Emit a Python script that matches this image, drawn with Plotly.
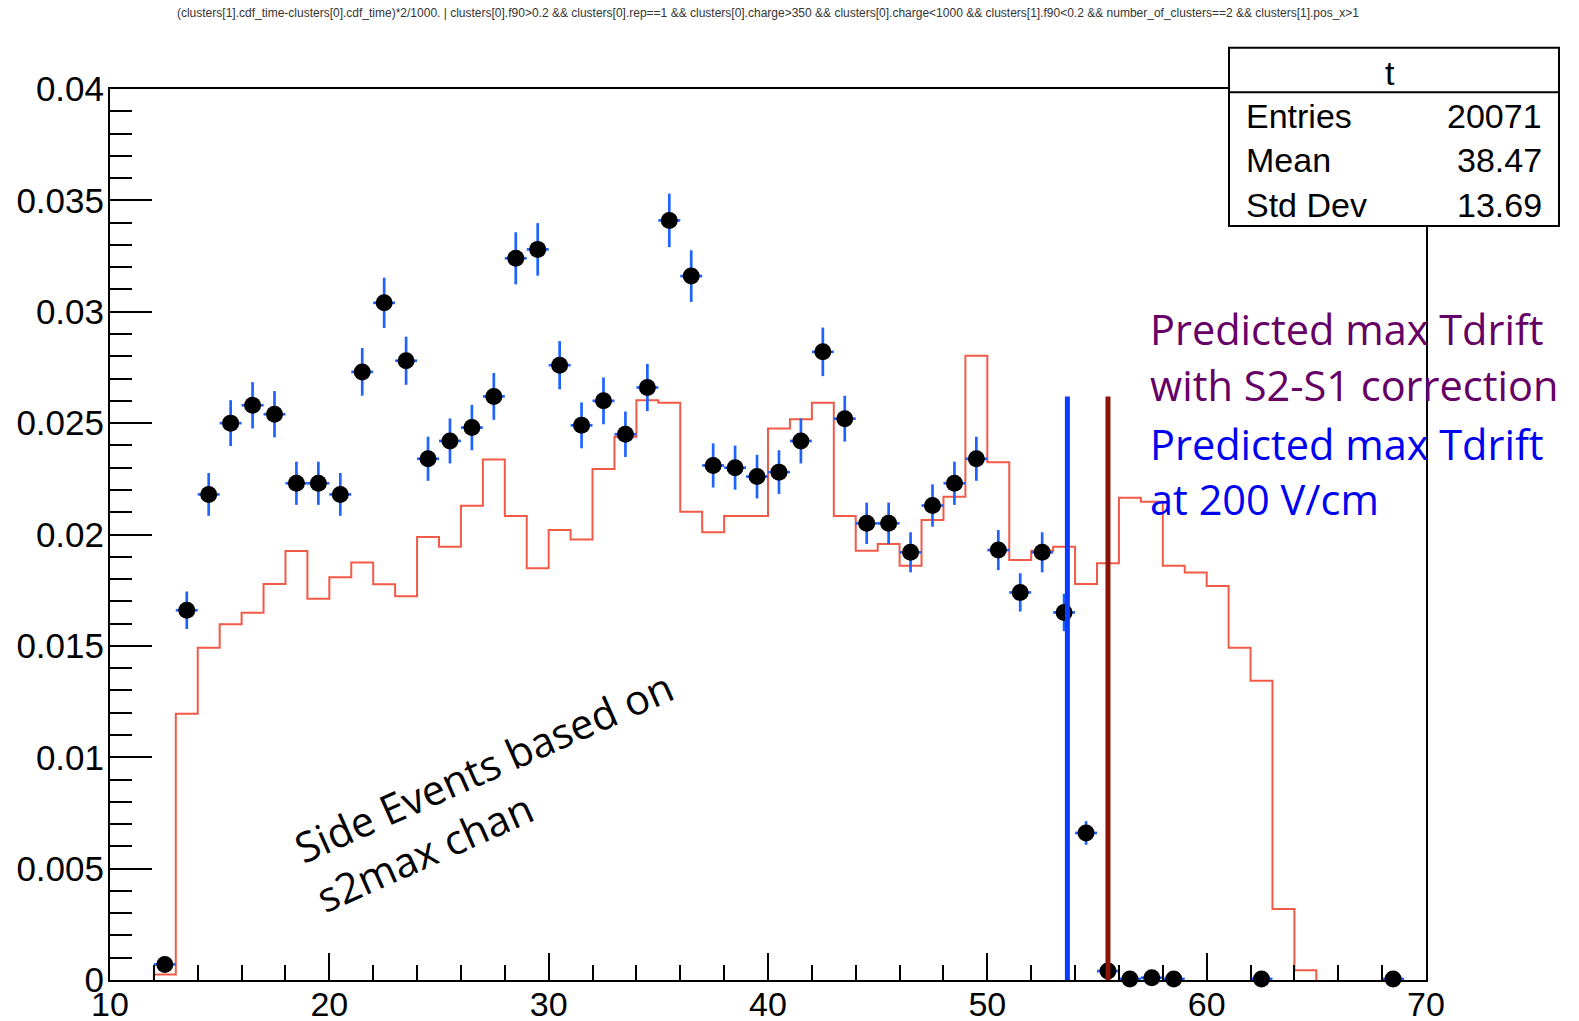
import plotly.graph_objects as go

# ---------------- data ----------------
point_x = [12.5, 13.5, 14.5, 15.5, 16.5, 17.5, 18.5, 19.5, 20.5, 21.5,
           22.5, 23.5, 24.5, 25.5, 26.5, 27.5, 28.5, 29.5, 30.5, 31.5,
           32.5, 33.5, 34.5, 35.5, 36.5, 37.5, 38.5, 39.5, 40.5, 41.5,
           42.5, 43.5, 44.5, 45.5, 46.5, 47.5, 48.5, 49.5, 50.5, 51.5,
           52.5, 53.5, 54.5, 55.5, 56.5, 57.5, 58.5, 62.5, 68.5]
point_y = [0.0007, 0.0166, 0.0218, 0.0250, 0.0258, 0.0254, 0.0223, 0.0223, 0.0218, 0.0273,
           0.0304, 0.0278, 0.0234, 0.0242, 0.0248, 0.0262, 0.0324, 0.0328, 0.0276, 0.0249,
           0.0260, 0.0245, 0.0266, 0.0341, 0.0316, 0.0231, 0.0230, 0.0226, 0.0228, 0.0242,
           0.0282, 0.0252, 0.0205, 0.0205, 0.0192, 0.0213, 0.0223, 0.0234, 0.0193, 0.0174,
           0.0192, 0.0165, 0.0066, 0.0004, 0.00005, 0.0001, 0.00005, 0.00005, 0.00005]
point_err = [0.00017, 0.00084, 0.00096, 0.00103, 0.00104, 0.00104, 0.00097, 0.00097, 0.00096, 0.00107,
             0.00113, 0.00108, 0.00099, 0.00101, 0.00102, 0.00105, 0.00117, 0.00118, 0.00108, 0.00103,
             0.00105, 0.00102, 0.00106, 0.00120, 0.00116, 0.00099, 0.00099, 0.00098, 0.00098, 0.00101,
             0.00109, 0.00103, 0.00093, 0.00093, 0.00090, 0.00095, 0.00097, 0.00099, 0.00090, 0.00086,
             0.00090, 0.00084, 0.00053, 0.00013, 0.00005, 0.00007, 0.00005, 0.00005, 0.00005]
bin_half_width = 0.5

hist_low_edges = [12, 13, 14, 15, 16, 17, 18, 19, 20, 21, 22, 23, 24, 25, 26, 27, 28, 29,
                  30, 31, 32, 33, 34, 35, 36, 37, 38, 39, 40, 41, 42, 43, 44, 45, 46, 47,
                  48, 49, 50, 51, 52, 53, 54, 55, 56, 57, 58, 59, 60, 61, 62, 63, 64]
hist_last_edge = 65
hist_values = [0.00025, 0.01195, 0.01492, 0.01597, 0.01649, 0.01778, 0.01926, 0.01712, 0.01808,
               0.01874, 0.01777, 0.01723, 0.01989, 0.01945, 0.02129, 0.02337, 0.02083, 0.01848,
               0.02020, 0.01978, 0.02294, 0.02439, 0.02603, 0.02591, 0.02102, 0.02010, 0.02083,
               0.02083, 0.02476, 0.02517, 0.02591, 0.02083, 0.01927, 0.01957, 0.01860, 0.02065,
               0.02170, 0.02802, 0.02324, 0.01886, 0.01927, 0.01945, 0.01778, 0.01871, 0.02165,
               0.02147, 0.01860, 0.01829, 0.01769, 0.01492, 0.01343, 0.00319, 0.00044]

x_tick_vals = [10, 20, 30, 40, 50, 60, 70]
x_tick_text = ["10", "20", "30", "40", "50", "60", "70"]
y_tick_vals = [0, 0.005, 0.01, 0.015, 0.02, 0.025, 0.03, 0.035, 0.04]
y_tick_text = ["0", "0.005", "0.01", "0.015", "0.02", "0.025", "0.03", "0.035", "0.04"]

line_blue_x = 53.65      # predicted max Tdrift at 200 V/cm
line_red_x = 55.5        # predicted max Tdrift with S2-S1 correction
line_top_y = 0.0262

stats_title = "t"
stats_labels = ["Entries", "Mean", "Std Dev"]
stats_values = ["20071", "38.47", "13.69"]

title_text = ("(clusters[1].cdf_time-clusters[0].cdf_time)*2/1000. | clusters[0].f90>0.2 && "
              "clusters[0].rep==1 && clusters[0].charge>350 && clusters[0].charge<1000 && "
              "clusters[1].f90<0.2 && number_of_clusters==2 && clusters[1].pos_x>1")

# ---------------- layout geometry ----------------
W, H = 1579, 1021
ML, MR, MT, MB = 110, 153, 88.5, 40.5
PW, PH = W - ML - MR, H - MT - MB


def px(xp):
    return (xp - ML) / PW


def py(yp):
    return (H - MB - yp) / PH


fig = go.Figure()

# histogram outline (step)
step_x = [hist_low_edges[0]] + hist_low_edges + [hist_last_edge]
step_y = [0] + hist_values + [0]
fig.add_trace(go.Scatter(
    x=step_x, y=step_y, mode="lines", line=dict(shape="hv", color="#f25a48", width=2),
    hoverinfo="skip", showlegend=False))

# data points
fig.add_trace(go.Scatter(
    x=point_x, y=point_y, mode="markers",
    marker=dict(symbol="circle", size=17, color="black"),
    error_y=dict(type="data", array=point_err, color="#1f63ff", thickness=2.7, width=0),
    error_x=dict(type="constant", value=bin_half_width, color="#1f63ff", thickness=2.7, width=0),
    cliponaxis=False, showlegend=False))

shapes = [
    dict(type="line", xref="x", yref="y", x0=line_blue_x, x1=line_blue_x, y0=0, y1=line_top_y,
         line=dict(color="#0a3cff", width=5), layer="above"),
    dict(type="line", xref="x", yref="y", x0=line_red_x, x1=line_red_x, y0=0, y1=line_top_y,
         line=dict(color="#8b1508", width=5), layer="above"),
    # stats box
    dict(type="rect", xref="paper", yref="paper", x0=px(1229), x1=px(1559), y0=py(225.7), y1=py(47.3),
         fillcolor="white", line=dict(color="black", width=2), layer="above"),
    dict(type="line", xref="paper", yref="paper", x0=px(1229), x1=px(1559), y0=py(91.7), y1=py(91.7),
         line=dict(color="black", width=2), layer="above"),
]

stat_font = dict(family="Liberation Sans, Arial, sans-serif", size=34, color="black")
ann = [
    dict(xref="paper", yref="paper", x=px(1390), y=py(72), text=stats_title, showarrow=False,
         xanchor="center", yanchor="middle", font=stat_font),
]
row_y = [116, 160, 205]
for lab, val, ry in zip(stats_labels, stats_values, row_y):
    ann.append(dict(xref="paper", yref="paper", x=px(1244), y=py(ry), text=lab, showarrow=False,
                    xanchor="left", yanchor="middle", font=stat_font))
    ann.append(dict(xref="paper", yref="paper", x=px(1544), y=py(ry), text=val, showarrow=False,
                    xanchor="right", yanchor="middle", font=stat_font))

note_font = "Open Sans, Noto Sans, sans-serif"
note_lines = [("Predicted max Tdrift", "#660066", 329),
              ("with S2-S1 correction", "#660066", 385),
              ("Predicted max Tdrift", "#0000f0", 444),
              ("at 200 V/cm", "#0000f0", 499)]
for txt, col, ly in note_lines:
    ann.append(dict(xref="paper", yref="paper", x=px(1148), y=py(ly), text=txt, showarrow=False,
                    xanchor="left", yanchor="middle",
                    font=dict(family=note_font, size=41.5, color=col)))

ann.append(dict(xref="x", yref="y", x=27.55, y=0.0085, text="Side Events based on<br>s2max chan",
                showarrow=False, xanchor="center", yanchor="middle", align="left", textangle=-24,
                font=dict(family=note_font, size=41.5, color="black")))

axis_font = dict(family="Liberation Sans, Arial, sans-serif", size=34, color="black")
fig.update_layout(
    width=W, height=H,
    margin=dict(l=ML, r=MR, t=MT, b=MB, pad=0, autoexpand=False),
    paper_bgcolor="white", plot_bgcolor="white",
    title=dict(text=title_text, x=0.5, xref="paper", xanchor="center",
               y=1 - 13 / H, yref="container", yanchor="middle", automargin=False,
               font=dict(family="Liberation Sans, Arial, sans-serif", size=12, color="#333333")),
    xaxis=dict(range=[10, 70], tickvals=x_tick_vals, ticktext=x_tick_text, ticks="inside",
               ticklen=27, tickwidth=2, tickcolor="black", showgrid=False, zeroline=False,
               showline=True, linecolor="black", linewidth=2, mirror=True, tickfont=axis_font,
               automargin=False, ticklabelstandoff=-7,
               minor=dict(dtick=2, ticks="inside", ticklen=15, tickwidth=2, tickcolor="black",
                          showgrid=False)),
    yaxis=dict(range=[0, 0.04], tickvals=y_tick_vals, ticktext=y_tick_text, ticks="inside",
               ticklen=42, tickwidth=2, tickcolor="black", showgrid=False, zeroline=False,
               showline=True, linecolor="black", linewidth=2, mirror=True,
               tickfont=dict(family="Liberation Sans, Arial, sans-serif", size=35, color="black"),
               automargin=False, ticklabelstandoff=-3,
               minor=dict(dtick=0.001, tick0=0, ticks="inside", ticklen=22, tickwidth=2,
                          tickcolor="black", showgrid=False)),
    shapes=shapes, annotations=ann,
)

fig.write_html("out.html", config={"displayModeBar": False},
               post_script="document.body.style.margin='0';")
